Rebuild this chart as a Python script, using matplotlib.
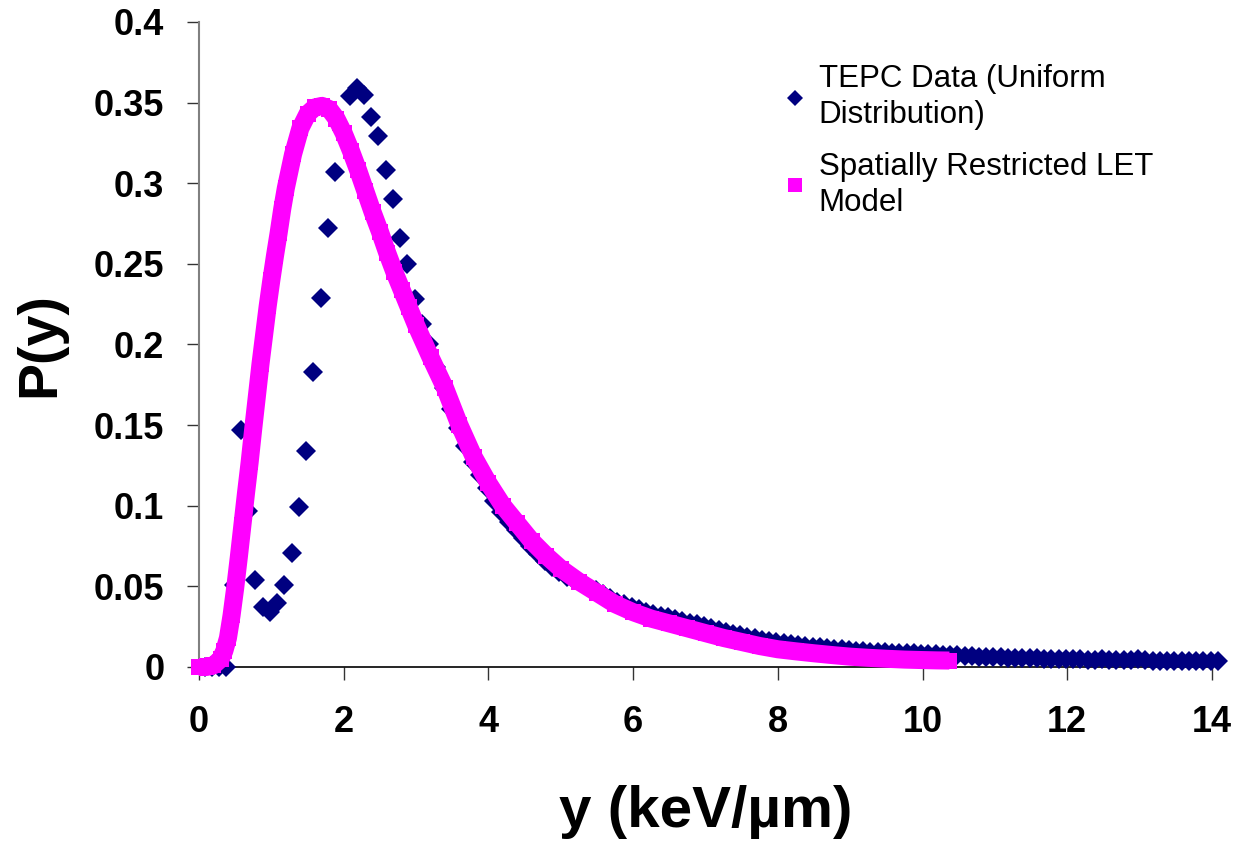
import numpy as np
import matplotlib
matplotlib.use("Agg")
import matplotlib.pyplot as plt
from matplotlib.lines import Line2D

plt.rcParams['font.family'] = ['Liberation Sans', 'DejaVu Sans']

# ---- data -------------------------------------------------------------
tepc_x = np.round(np.arange(1, 142) * 0.1 - 0.02, 2)
tepc_y = [
    0.000, 0.000, 0.000, 0.000, 0.051, 0.147, 0.097, 0.054, 0.037, 0.034,
    0.040, 0.051, 0.071, 0.099, 0.134, 0.183, 0.229, 0.272, 0.307, 0.333,
    0.354, 0.359, 0.355, 0.341, 0.329, 0.308, 0.290, 0.266, 0.250, 0.228,
    0.213, 0.200, 0.186, 0.173, 0.160, 0.148, 0.137, 0.127, 0.119, 0.111,
    0.103, 0.096, 0.090, 0.085, 0.080, 0.075, 0.070, 0.066, 0.062, 0.059,
    0.056, 0.054, 0.052, 0.0499, 0.0476, 0.0453, 0.0430, 0.0404, 0.0389, 0.0374,
    0.0357, 0.0341, 0.0327, 0.0319, 0.0307, 0.0295, 0.0283, 0.0271, 0.0264, 0.0252,
    0.0240, 0.0228, 0.0217, 0.0206, 0.0197, 0.0187, 0.0177, 0.0168, 0.0160, 0.0152,
    0.0146, 0.0141, 0.0136, 0.0131, 0.0126, 0.0121, 0.0117, 0.0113, 0.0109, 0.0105,
    0.0102, 0.0099, 0.0096, 0.0094, 0.0091, 0.0089, 0.0087, 0.0086, 0.0084, 0.0083,
    0.0081, 0.0079, 0.0077, 0.0075, 0.0072, 0.0069, 0.0067, 0.0064, 0.0062, 0.0060,
    0.0063, 0.0058, 0.0057, 0.0055, 0.0054, 0.0053, 0.0052, 0.0051, 0.0050, 0.0049,
    0.0048, 0.0047, 0.0046, 0.0045, 0.0049, 0.0044, 0.0043, 0.0042, 0.0042, 0.0047,
    0.0041, 0.0040, 0.0040, 0.0039, 0.0039, 0.0039, 0.0038, 0.0038, 0.0038, 0.0037,
    0.0038,
]

model_x = [0.00, 0.10, 0.20, 0.30, 0.35, 0.40, 0.45, 0.50, 0.55, 0.60,
           0.65, 0.70, 0.75, 0.80, 0.85, 0.90, 0.95, 1.00, 1.05, 1.10,
           1.15, 1.20, 1.30, 1.40, 1.50, 1.60, 1.70, 1.80, 1.90, 2.00,
           2.10, 2.20, 2.30, 2.40, 2.50, 2.60, 2.70, 2.80, 2.90, 3.00,
           3.20, 3.40, 3.60, 3.80, 4.00, 4.20, 4.40, 4.60, 4.80, 5.00,
           5.25, 5.50, 5.75, 6.00, 6.25, 6.50, 6.75, 7.00, 7.25, 7.50,
           7.75, 8.00, 8.25, 8.50, 8.75, 9.00, 9.25, 9.50, 9.75, 10.00,
           10.20, 10.37]
model_y = [0.000, 0.000, 0.001, 0.005, 0.010, 0.018, 0.032, 0.049, 0.068, 0.088,
           0.108, 0.127, 0.148, 0.168, 0.188, 0.206, 0.224, 0.240, 0.255, 0.269,
           0.284, 0.297, 0.318, 0.334, 0.343, 0.347, 0.348, 0.346, 0.340, 0.331,
           0.320, 0.308, 0.295, 0.282, 0.270, 0.257, 0.245, 0.234, 0.223, 0.212,
           0.192, 0.173, 0.150, 0.130, 0.114, 0.100, 0.089, 0.078, 0.069, 0.061,
           0.053, 0.046, 0.039, 0.034, 0.030, 0.027, 0.024, 0.021, 0.018, 0.0155,
           0.013, 0.011, 0.0097, 0.0085, 0.0074, 0.0064, 0.0057, 0.0051, 0.0046, 0.0043,
           0.0041, 0.0040]

x_ticks = [0, 2, 4, 6, 8, 10, 12, 14]
y_ticks = [0, 0.05, 0.1, 0.15, 0.2, 0.25, 0.3, 0.35, 0.4]
y_tick_labels = ["0", "0.05", "0.1", "0.15", "0.2", "0.25", "0.3", "0.35", "0.4"]

tepc_label = "TEPC Data (Uniform\nDistribution)"
model_label = "Spatially Restricted LET\nModel"

NAVY = "#000080"
MAGENTA = "#FF00FF"

# ---- figure -----------------------------------------------------------
fig = plt.figure(figsize=(12.4, 8.46), dpi=100)
L, R, T, B = 199, 1212, 22, 667
W, H = 1240, 846
ax = fig.add_axes([L / W, 1 - B / H, (R - L) / W, (B - T) / H])

ax.plot(tepc_x, tepc_y, linestyle='none', marker='D', markersize=10.5,
        color=NAVY, markeredgewidth=0, clip_on=False, zorder=3)
ax.plot(model_x, model_y, linestyle='-', linewidth=13, color=MAGENTA,
        solid_capstyle='butt', solid_joinstyle='round', clip_on=False, zorder=4)
ax.plot(model_x, model_y, linestyle='none', marker='s', markersize=12,
        color=MAGENTA, markeredgewidth=0, clip_on=False, zorder=4)

ax.set_xlim(0, 14)
ax.set_ylim(0, 0.4)
ax.set_xticks(x_ticks)
ax.set_xticklabels([str(t) for t in x_ticks])
ax.set_yticks(y_ticks)
ax.set_yticklabels(y_tick_labels)

for s in ['top', 'right']:
    ax.spines[s].set_visible(False)
ax.spines['left'].set_color('#808080')
ax.spines['left'].set_linewidth(1.5)
ax.spines['bottom'].set_color('black')
ax.spines['bottom'].set_linewidth(1.2)

ax.tick_params(axis='both', direction='out', length=9, width=1.0, color='#333333')
ax.tick_params(axis='y', pad=16, labelsize=26)
ax.tick_params(axis='x', pad=18, labelsize=26)
for lab in ax.get_xticklabels() + ax.get_yticklabels():
    lab.set_fontweight('bold')

ax.set_xlabel("y (keV/µm)", fontsize=42, fontweight='bold', va='center')
ax.xaxis.set_label_coords(0.5, (B - 812) / (B - T))
ax.set_ylabel("P(y)", fontsize=40, fontweight='bold', va='center')
ax.yaxis.set_label_coords((40 - L) / (R - L), 0.5)

handles = [
    Line2D([], [], linestyle='none', marker='D', markersize=8, color=NAVY,
           markeredgewidth=0),
    Line2D([], [], linestyle='none', marker='s', markersize=10, color=MAGENTA,
           markeredgewidth=0),
]
leg = ax.legend(handles, [tepc_label, model_label], loc='upper left',
                bbox_to_anchor=((786 - L) / (R - L), (B - 64) / (B - T)),
                frameon=False, fontsize=22.5, handlelength=0.6,
                handletextpad=0.45, labelspacing=0.68, borderaxespad=0,
                borderpad=0)
for t in leg.get_texts():
    t.set_linespacing(1.28)

fig.savefig("out.png", dpi=100)
